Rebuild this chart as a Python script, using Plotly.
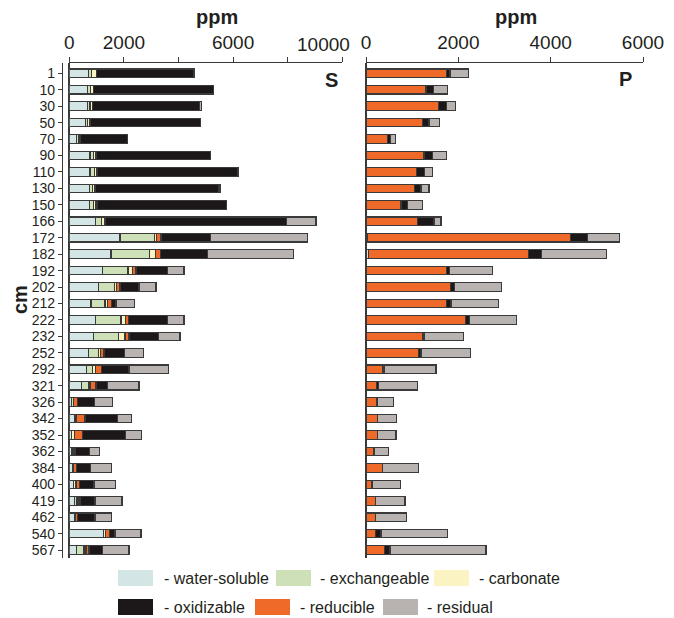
import plotly.graph_objects as go

# ---------------- data ----------------
depths = ["1", "10", "30", "50", "70", "90", "110", "130", "150", "166",
          "172", "182", "192", "202", "212", "222", "232", "252", "292", "321",
          "326", "342", "352", "362", "384", "400", "419", "462", "540", "567"]

fractions = ["water-soluble", "exchangeable", "carbonate", "oxidizable", "reducible", "residual"]
colors = {"water-soluble": "#d3e5e5", "exchangeable": "#cee0b8", "carbonate": "#fcf3c3",
          "oxidizable": "#1c1819", "reducible": "#ef6a28", "residual": "#b8b3b0"}

# S fractions (ppm)
S_water = [700, 674, 674, 600, 270, 758, 758, 735, 735, 967,
           1857, 1527, 1223, 1062, 795, 967, 880, 696, 637, 454,
           88, 183, 88, 100, 110, 161, 198, 198, 1245, 271]
S_exch = [110, 110, 84, 74, 60, 122, 158, 125, 145, 220,
          1257, 1404, 927, 586, 513, 927, 929, 366, 206, 242,
          60, 40, 0, 0, 0, 0, 80, 0, 0, 267]
S_carb = [170, 96, 87, 84, 40, 98, 87, 81, 98, 121,
          86, 233, 158, 88, 98, 172, 231, 88, 124, 62,
          0, 48, 95, 40, 60, 84, 40, 38, 88, 74]
S_red = [30, 20, 15, 15, 20, 30, 30, 20, 60, 30,
         159, 183, 135, 121, 147, 110, 147, 121, 220, 220,
         160, 304, 308, 69, 101, 121, 74, 60, 132, 110]
S_oxid = [3558, 4375, 3902, 4026, 1749, 4171, 5147, 4509, 4727, 6625,
          1820, 1708, 1147, 696, 158, 1414, 1073, 744, 1000, 414,
          608, 1183, 1575, 524, 513, 539, 549, 645, 209, 501]
S_resid = [20, 0, 73, 20, 0, 0, 30, 50, 0, 1073,
           3539, 3150, 611, 623, 670, 611, 795, 696, 1439, 1161,
           674, 528, 586, 381, 769, 780, 989, 612, 952, 964]

# P fractions (ppm)
P_water = [0, 0, 0, 0, 0, 0, 0, 0, 0, 0,
           36, 51, 0, 0, 0, 0, 0, 0, 0, 0,
           0, 0, 0, 0, 0, 0, 0, 0, 0, 0]
P_exch = [0] * 30
P_carb = [0] * 30
P_red = [1748, 1300, 1575, 1228, 462, 1257, 1098, 1055, 758, 1112,
         4385, 3467, 1734, 1835, 1748, 2152, 1214, 1141, 354, 231,
         231, 245, 245, 173, 354, 130, 202, 198, 198, 397]
P_oxid = [72, 159, 159, 137, 72, 180, 166, 137, 137, 361,
          375, 274, 72, 79, 94, 87, 43, 51, 36, 36,
          15, 10, 10, 10, 10, 10, 10, 10, 127, 123]
P_resid = [398, 303, 209, 224, 101, 311, 181, 173, 333, 152,
           694, 1423, 931, 1026, 1033, 1026, 852, 1076, 1127, 845,
           346, 409, 395, 301, 770, 611, 633, 673, 1437, 2080]

S_tickvals = [0, 2000, 4000, 6000, 8000, 10000]
S_ticktext = ["0", "2000", "", "6000", "", ""]   # "10000" is set beside its tick (see below)
S_last_label = "10000"
P_tickvals = [0, 2000, 4000, 6000]
P_ticktext = ["0", "2000", "4000", "6000"]

# stacking order along the bar
stack_order = ["water-soluble", "exchangeable", "carbonate", "reducible", "oxidizable", "residual"]
S_data = {"water-soluble": S_water, "exchangeable": S_exch, "carbonate": S_carb,
          "reducible": S_red, "oxidizable": S_oxid, "residual": S_resid}
P_data = {"water-soluble": P_water, "exchangeable": P_exch, "carbonate": P_carb,
          "reducible": P_red, "oxidizable": P_oxid, "residual": P_resid}

# ---------------- figure ----------------
W, H = 674, 618
FONT = "Liberation Sans, Arial, sans-serif"
TXT = "#231f20"
LINE = "#3a3a3a"

def px(x):
    return x / W

def py(y):
    return 1 - y / H

fig = go.Figure()
for f in stack_order:
    fig.add_trace(go.Bar(y=depths, x=S_data[f], orientation="h", name=f,
                         marker=dict(color=colors[f], line=dict(color=LINE, width=1.1)),
                         xaxis="x", yaxis="y", showlegend=False))
    fig.add_trace(go.Bar(y=depths, x=P_data[f], orientation="h", name=f,
                         marker=dict(color=colors[f], line=dict(color=LINE, width=1.1)),
                         xaxis="x2", yaxis="y2", showlegend=False))

ydom = [py(558), py(62.7)]
yrange = [29.48, -0.645]

fig.update_layout(
    width=W, height=H,
    margin=dict(l=0, r=0, t=0, b=0, autoexpand=False),
    paper_bgcolor="white", plot_bgcolor="white",
    barmode="stack", bargap=0.48,
    font=dict(family=FONT, color=TXT),
    xaxis=dict(domain=[px(69.3), px(342.3)], range=[0, 10000], side="top", anchor="y",
               automargin=False,
               showgrid=False, showline=True, linecolor=LINE, linewidth=1.3,
               ticks="outside", ticklen=5, tickcolor=LINE, tickwidth=1.3,
               tickmode="array", tickvals=S_tickvals, ticktext=S_ticktext,
               tickfont=dict(size=19, family=FONT, color=TXT),
               zeroline=True, zerolinecolor=LINE, zerolinewidth=1.5),
    yaxis=dict(domain=ydom, type="category", categoryorder="array", categoryarray=depths,
               range=yrange, anchor="free", position=px(62), automargin=False,
               tickmode="array", tickvals=depths, ticktext=depths,
               showgrid=False, showline=True, linecolor=LINE, linewidth=1.3,
               ticks="outside", ticklen=4, tickcolor=LINE, tickwidth=1,
               tickfont=dict(size=14, family=FONT, color=TXT)),
    xaxis2=dict(domain=[px(366), px(643)], range=[0, 6000], side="top", anchor="y2",
                automargin=False,
                showgrid=False, showline=True, linecolor=LINE, linewidth=1.3,
                ticks="outside", ticklen=5, tickcolor=LINE, tickwidth=1.3,
                tickmode="array", tickvals=P_tickvals, ticktext=P_ticktext,
                tickfont=dict(size=19, family=FONT, color=TXT),
                zeroline=True, zerolinecolor=LINE, zerolinewidth=1.5),
    yaxis2=dict(domain=ydom, type="category", categoryorder="array", categoryarray=depths,
                range=yrange, anchor="x2", automargin=False, showgrid=False, showline=False,
                showticklabels=False, ticks=""),
)

ann = [
    dict(text="<b>ppm</b>", x=px(217), y=py(17)),
    dict(text="<b>ppm</b>", x=px(516), y=py(17)),
    dict(text="<b>S</b>", x=px(331), y=py(80)),
    dict(text="<b>P</b>", x=px(625), y=py(79)),
    dict(text="<b>cm</b>", x=px(20), y=py(300), textangle=-90),
]
for a in ann:
    fig.add_annotation(xref="paper", yref="paper", showarrow=False,
                       xanchor="center", yanchor="middle",
                       font=dict(size=20, family=FONT, color=TXT), **a)

# last S tick label, set to the left of its tick as in the original
fig.add_annotation(xref="paper", yref="paper", showarrow=False, x=px(352), y=py(44),
                   xanchor="right", yanchor="middle", text=S_last_label,
                   font=dict(size=19, family=FONT, color=TXT))

# custom legend (swatches + labels)
legend_items = [
    ("water-soluble", 118, 578, 162),
    ("exchangeable", 276, 578, 318),
    ("carbonate", 434, 578, 477),
    ("oxidizable", 118, 607, 162),
    ("reducible", 255, 607, 298),
    ("residual", 383, 607, 425),
]
for name, sx, sy, tx in legend_items:
    fig.add_shape(type="rect", xref="paper", yref="paper",
                  x0=px(sx), x1=px(sx + 35), y0=py(sy + 8), y1=py(sy - 8),
                  fillcolor=colors[name], line=dict(width=0))
    fig.add_annotation(xref="paper", yref="paper", showarrow=False,
                       x=px(tx), y=py(sy), xanchor="left", yanchor="middle",
                       text="- " + name, font=dict(size=16, family=FONT, color=TXT))

fig.write_html("out.html")
